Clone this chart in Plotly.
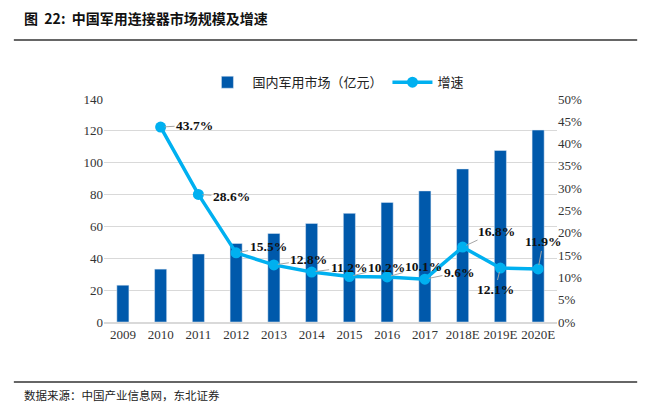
import plotly.graph_objects as go

years = ["2009", "2010", "2011", "2012", "2013", "2014", "2015", "2016", "2017", "2018E", "2019E", "2020E"]
market = [23.1, 33.2, 42.7, 49.3, 55.6, 61.9, 68.2, 75.1, 82.3, 96.1, 107.7, 120.5]
growth_years = ["2010", "2011", "2012", "2013", "2014", "2015", "2016", "2017", "2018E", "2019E", "2020E"]
growth = [0.437, 0.286, 0.155, 0.128, 0.112, 0.102, 0.101, 0.096, 0.168, 0.121, 0.119]
growth_labels = ["43.7%", "28.6%", "15.5%", "12.8%", "11.2%", "10.2%", "10.1%", "9.6%", "16.8%", "12.1%", "11.9%"]
label_offsets = [(34, -2), (33, 2), (32, -6), (35, -5), (37, -5), (37, -9), (36, -10), (34, -7), (34, -16), (-5, 21), (5, -27)]

BAR = "#0059AB"
LINE = "#00B0F0"
SERIF = "Liberation Serif, Times New Roman, serif"
CJK = "Noto Sans CJK SC"

fig = go.Figure()
fig.add_trace(go.Bar(x=years, y=market, name="国内军用市场（亿元）", marker_color=BAR,
                     width=0.32, yaxis="y"))
fig.add_trace(go.Scatter(x=growth_years, y=growth, name="增速", mode="lines+markers",
                         line=dict(color=LINE, width=3.5), marker=dict(size=11, color=LINE),
                         yaxis="y2"))

annotations = []
for xv, yv, t, (ax, ay) in zip(growth_years, growth, growth_labels, label_offsets):
    annotations.append(dict(x=years.index(xv), y=yv, xref="x", yref="y2", text="<b>%s</b>" % t,
                            showarrow=True, arrowhead=0, arrowwidth=1, arrowcolor="#A6A6A6",
                            ax=ax, ay=ay, standoff=4,
                            font=dict(family=SERIF, size=13.5, color="#111111")))

annotations.append(dict(xref="paper", yref="paper", x=-0.181, y=1.363, xanchor="left", yanchor="middle",
                        text="<b>图  22:  中国军用连接器市场规模及增速</b>", showarrow=False,
                        font=dict(family=CJK, size=14, color="#111111")))
annotations.append(dict(xref="paper", yref="paper", x=-0.181, y=-0.327, xanchor="left", yanchor="middle",
                        text="数据来源：中国产业信息网，东北证券", showarrow=False,
                        font=dict(family=CJK, size=11.5, color="#222222")))

shapes = [
    dict(type="line", xref="paper", yref="paper", x0=-0.199, x1=1.177, y0=1.265, y1=1.265,
         line=dict(color="#333333", width=1.5)),
    dict(type="line", xref="paper", yref="paper", x0=-0.199, x1=1.177, y0=-0.269, y1=-0.269,
         line=dict(color="#333333", width=1.5)),
]

fig.update_layout(
    width=651, height=417,
    margin=dict(l=104, r=94, t=99, b=95, autoexpand=False),
    paper_bgcolor="white", plot_bgcolor="white",
    showlegend=True,
    legend=dict(orientation="h", x=0.512, xanchor="center", y=1.075, yanchor="middle",
                font=dict(family=CJK, size=13, color="#222222"), bgcolor="rgba(0,0,0,0)",
                itemwidth=40, traceorder="normal"),
    xaxis=dict(type="category", range=[-0.5, 11.5], autorange=False, showgrid=False,
               showline=True, linecolor="#D9D9D9", linewidth=1.5,
               ticks="", tickfont=dict(family=SERIF, size=13, color="#333333")),
    yaxis=dict(range=[0, 140], dtick=20, showgrid=True, gridcolor="#D9D9D9", gridwidth=1.2,
               zeroline=False, ticks="", tickfont=dict(family=SERIF, size=13, color="#333333")),
    yaxis2=dict(range=[0, 0.5], dtick=0.05, tickformat=".0%", overlaying="y", side="right",
                showgrid=False, zeroline=False, ticks="",
                tickfont=dict(family=SERIF, size=13, color="#333333")),
    annotations=annotations,
    shapes=shapes,
    bargap=0.6,
)

fig.write_html("out.html", config={"displayModeBar": False},
               post_script="document.body.style.margin='0';document.body.style.overflow='hidden';")
